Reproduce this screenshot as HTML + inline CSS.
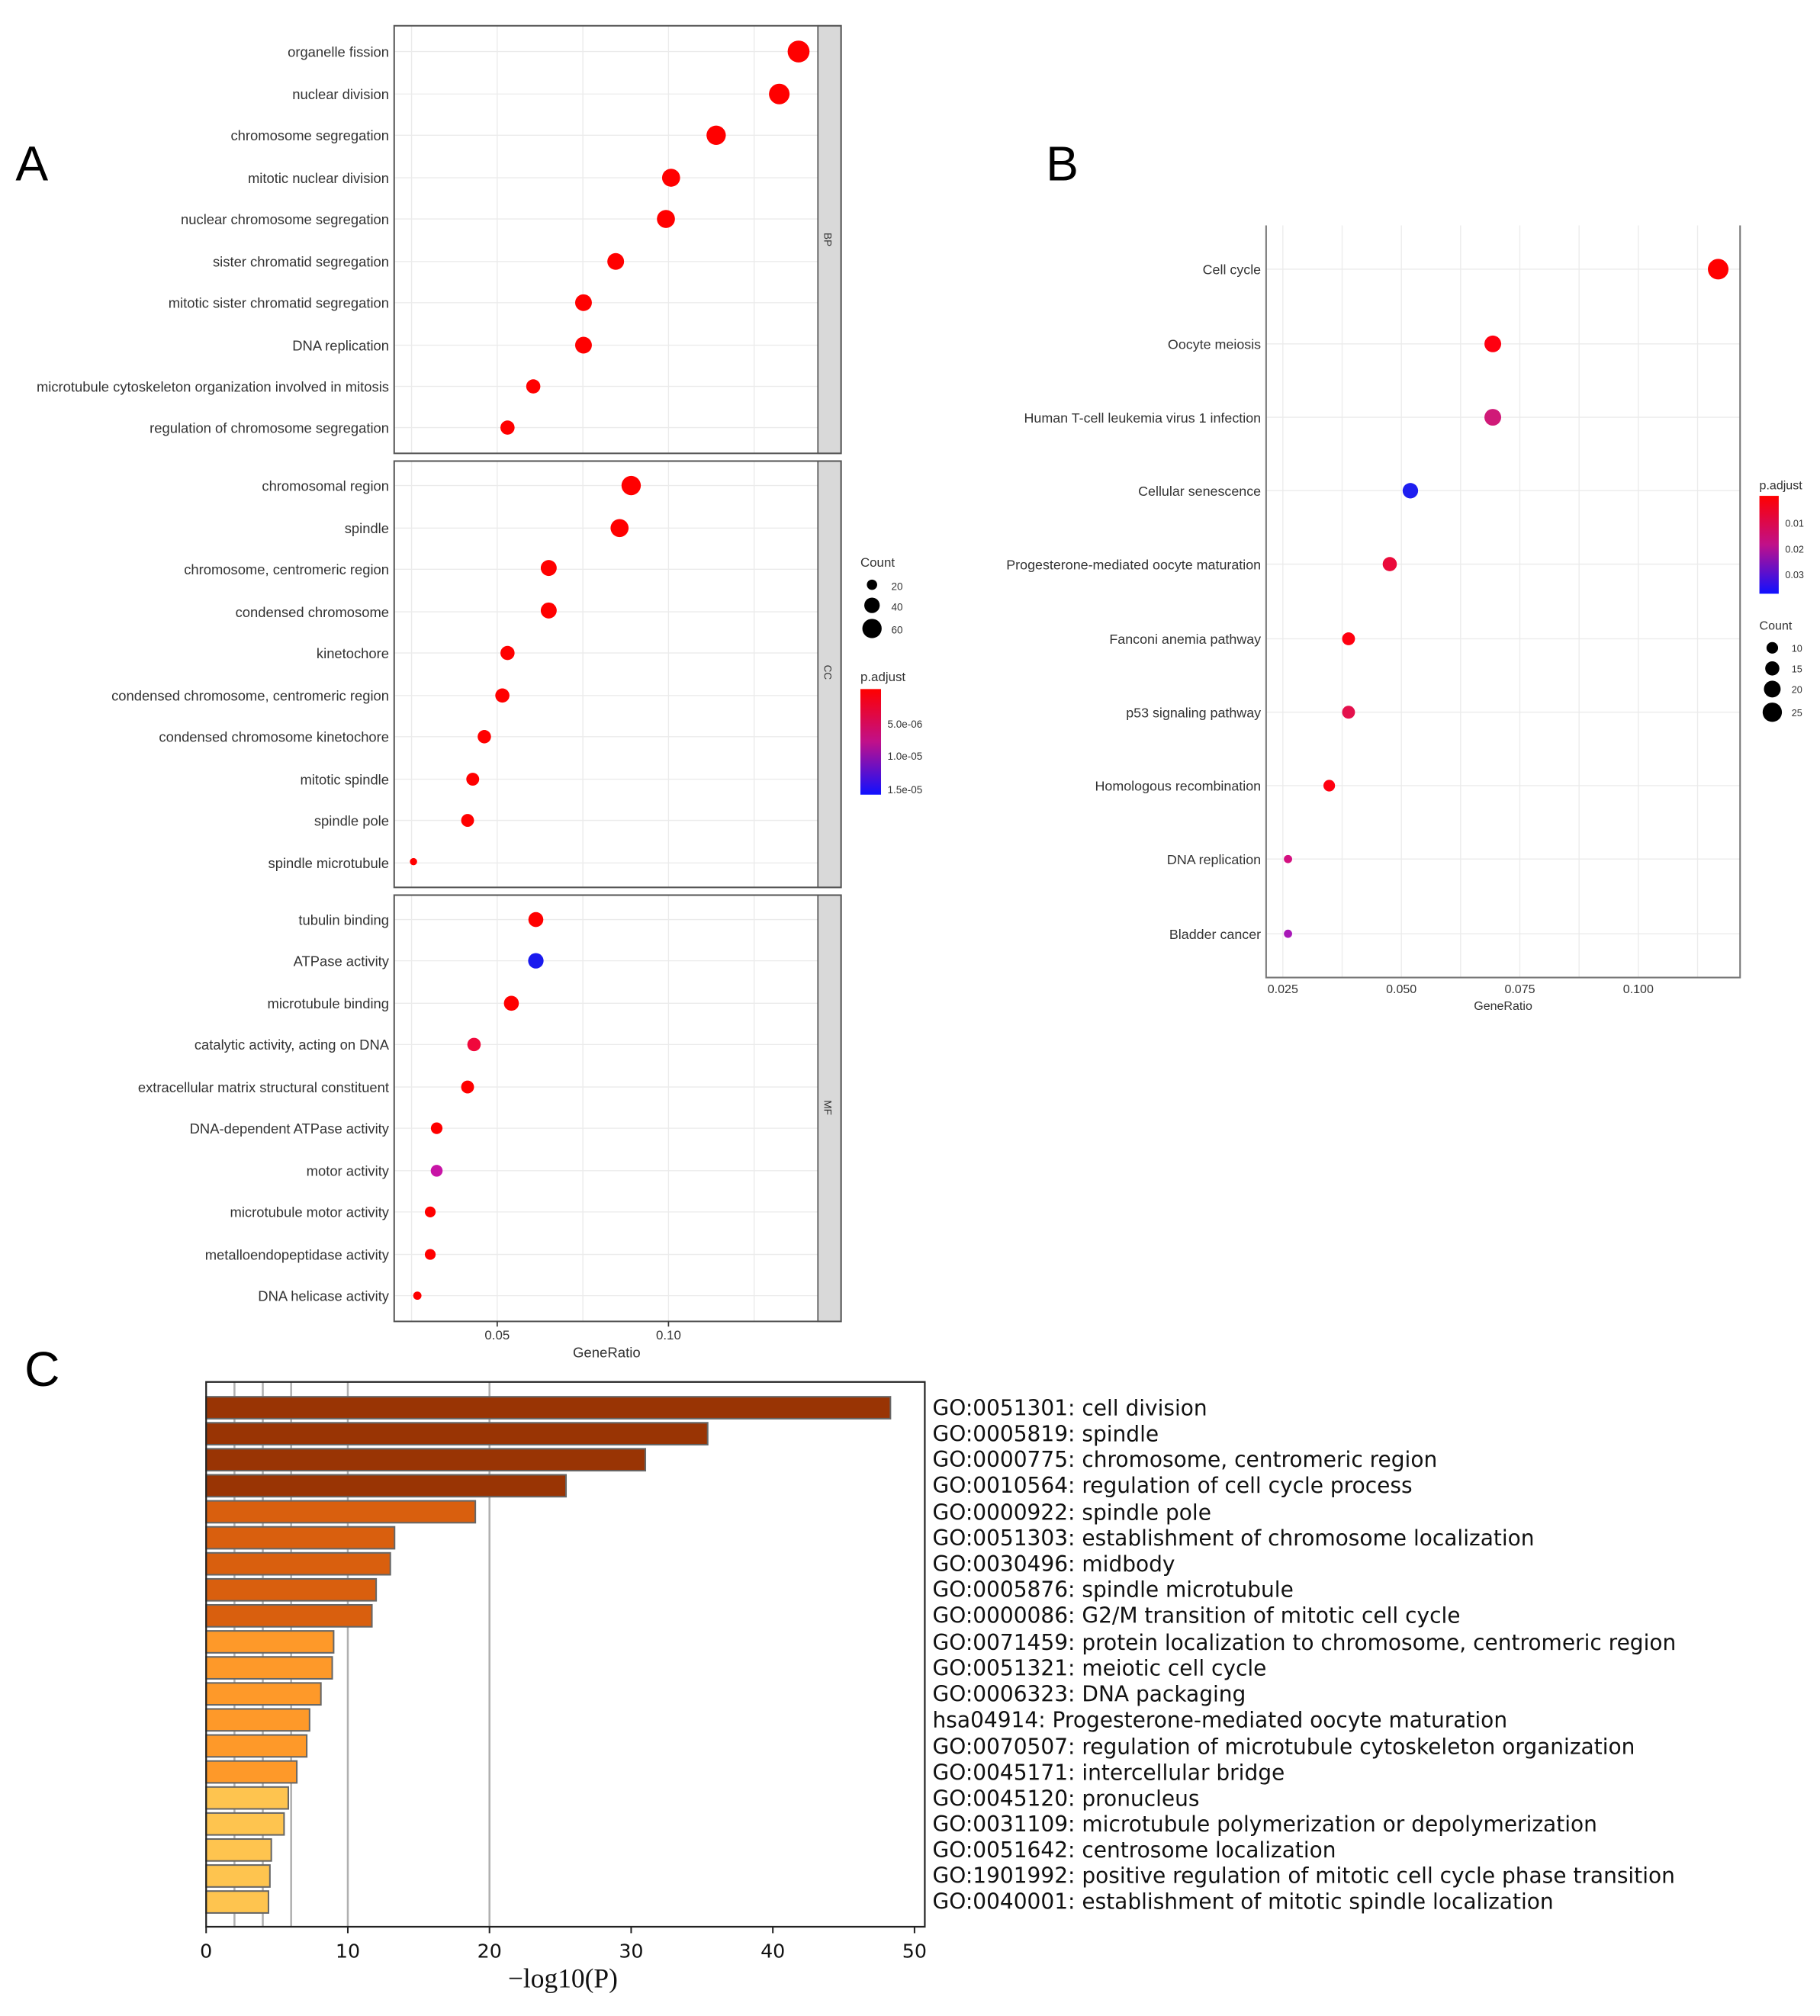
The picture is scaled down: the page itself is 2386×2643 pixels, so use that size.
<!DOCTYPE html>
<html><head><meta charset="utf-8"><style>html,body{margin:0;padding:0;background:#fff}svg{display:block}</style></head>
<body>
<svg width="2386" height="2643" viewBox="0 0 1413 1565.3" xmlns="http://www.w3.org/2000/svg" font-family="Liberation Sans, sans-serif">
<defs>
<linearGradient id="gA" x1="0" y1="0" x2="0" y2="1"><stop offset="0" stop-color="#ff0000"/><stop offset="0.5" stop-color="#c0108a"/><stop offset="1" stop-color="#1010ff"/></linearGradient>
</defs>
<text x="12" y="140" font-size="38">A</text>
<text x="812" y="140" font-size="38">B</text>
<text x="19" y="1076" font-size="38">C</text>

<g stroke="#ebebeb" stroke-width="0.8">
<line x1="319.5" y1="20" x2="319.5" y2="352"/><line x1="386" y1="20" x2="386" y2="352"/><line x1="452.5" y1="20" x2="452.5" y2="352"/><line x1="519" y1="20" x2="519" y2="352"/><line x1="585.5" y1="20" x2="585.5" y2="352"/>
<line x1="319.5" y1="358" x2="319.5" y2="689"/><line x1="386" y1="358" x2="386" y2="689"/><line x1="452.5" y1="358" x2="452.5" y2="689"/><line x1="519" y1="358" x2="519" y2="689"/><line x1="585.5" y1="358" x2="585.5" y2="689"/>
<line x1="319.5" y1="695" x2="319.5" y2="1026"/><line x1="386" y1="695" x2="386" y2="1026"/><line x1="452.5" y1="695" x2="452.5" y2="1026"/><line x1="519" y1="695" x2="519" y2="1026"/><line x1="585.5" y1="695" x2="585.5" y2="1026"/>
</g>
<g stroke="#ebebeb" stroke-width="0.8">
<line x1="306" x2="635" y1="40" y2="40"/><line x1="306" x2="635" y1="73" y2="73"/><line x1="306" x2="635" y1="105" y2="105"/><line x1="306" x2="635" y1="138" y2="138"/><line x1="306" x2="635" y1="170" y2="170"/><line x1="306" x2="635" y1="203" y2="203"/><line x1="306" x2="635" y1="235" y2="235"/><line x1="306" x2="635" y1="268" y2="268"/><line x1="306" x2="635" y1="300" y2="300"/><line x1="306" x2="635" y1="332" y2="332"/>
<line x1="306" x2="635" y1="377" y2="377"/><line x1="306" x2="635" y1="410" y2="410"/><line x1="306" x2="635" y1="442" y2="442"/><line x1="306" x2="635" y1="475" y2="475"/><line x1="306" x2="635" y1="507" y2="507"/><line x1="306" x2="635" y1="540" y2="540"/><line x1="306" x2="635" y1="572" y2="572"/><line x1="306" x2="635" y1="605" y2="605"/><line x1="306" x2="635" y1="637" y2="637"/><line x1="306" x2="635" y1="670" y2="670"/>
<line x1="306" x2="635" y1="714" y2="714"/><line x1="306" x2="635" y1="746" y2="746"/><line x1="306" x2="635" y1="779" y2="779"/><line x1="306" x2="635" y1="811" y2="811"/><line x1="306" x2="635" y1="844" y2="844"/><line x1="306" x2="635" y1="876" y2="876"/><line x1="306" x2="635" y1="909" y2="909"/><line x1="306" x2="635" y1="941" y2="941"/><line x1="306" x2="635" y1="974" y2="974"/><line x1="306" x2="635" y1="1006" y2="1006"/>
</g>
<g fill="#d9d9d9" stroke="#555" stroke-width="1">
<rect x="635" y="20" width="18" height="332"/><rect x="635" y="358" width="18" height="331"/><rect x="635" y="695" width="18" height="331"/>
</g>
<g fill="none" stroke="#555" stroke-width="1.2">
<rect x="306" y="20" width="347" height="332"/><rect x="306" y="358" width="347" height="331"/><rect x="306" y="695" width="347" height="331"/>
</g>
<g font-size="8" fill="#333">
<text transform="translate(640,186) rotate(90)" text-anchor="middle">BP</text>
<text transform="translate(640,522) rotate(90)" text-anchor="middle">CC</text>
<text transform="translate(640,860) rotate(90)" text-anchor="middle">MF</text>
</g>
<g font-size="10.9" fill="#333" text-anchor="end">
<text x="302" y="44">organelle fission</text>
<text x="302" y="77">nuclear division</text>
<text x="302" y="109">chromosome segregation</text>
<text x="302" y="142">mitotic nuclear division</text>
<text x="302" y="174">nuclear chromosome segregation</text>
<text x="302" y="207">sister chromatid segregation</text>
<text x="302" y="239">mitotic sister chromatid segregation</text>
<text x="302" y="272">DNA replication</text>
<text x="302" y="304">microtubule cytoskeleton organization involved in mitosis</text>
<text x="302" y="336">regulation of chromosome segregation</text>
<text x="302" y="381">chromosomal region</text>
<text x="302" y="414">spindle</text>
<text x="302" y="446">chromosome, centromeric region</text>
<text x="302" y="479">condensed chromosome</text>
<text x="302" y="511">kinetochore</text>
<text x="302" y="544">condensed chromosome, centromeric region</text>
<text x="302" y="576">condensed chromosome kinetochore</text>
<text x="302" y="609">mitotic spindle</text>
<text x="302" y="641">spindle pole</text>
<text x="302" y="674">spindle microtubule</text>
<text x="302" y="718">tubulin binding</text>
<text x="302" y="750">ATPase activity</text>
<text x="302" y="783">microtubule binding</text>
<text x="302" y="815">catalytic activity, acting on DNA</text>
<text x="302" y="848">extracellular matrix structural constituent</text>
<text x="302" y="880">DNA-dependent ATPase activity</text>
<text x="302" y="913">motor activity</text>
<text x="302" y="945">microtubule motor activity</text>
<text x="302" y="978">metalloendopeptidase activity</text>
<text x="302" y="1010">DNA helicase activity</text>
</g>
<g fill="#ff0000">
<circle cx="620" cy="40" r="8.5"/><circle cx="605" cy="73" r="8"/><circle cx="556" cy="105" r="7.5"/><circle cx="521" cy="138" r="7"/><circle cx="517" cy="170" r="7"/><circle cx="478" cy="203" r="6.5"/><circle cx="453" cy="235" r="6.5"/><circle cx="453" cy="268" r="6.5"/><circle cx="414" cy="300" r="5.5"/><circle cx="394" cy="332" r="5.5"/>
<circle cx="490" cy="377" r="7.5"/><circle cx="481" cy="410" r="7"/><circle cx="426" cy="441" r="6.2"/><circle cx="426" cy="474" r="6.2"/><circle cx="394" cy="507" r="5.5"/><circle cx="390" cy="540" r="5.5"/><circle cx="376" cy="572" r="5.2"/><circle cx="367" cy="605" r="5"/><circle cx="363" cy="637" r="5"/><circle cx="321" cy="669" r="2.8"/>
<circle cx="416" cy="714" r="5.8"/><circle cx="397" cy="779" r="5.8"/><circle cx="363" cy="844" r="5"/><circle cx="339" cy="876" r="4.5"/><circle cx="334" cy="941" r="4.2"/><circle cx="334" cy="974" r="4.2"/><circle cx="324" cy="1006" r="3.2"/>
</g>
<circle cx="416" cy="746" r="6" fill="#1a1aee"/>
<circle cx="368" cy="811" r="5.2" fill="#f0083c"/>
<circle cx="339" cy="909" r="4.6" fill="#c814a6"/>
<g font-size="10" fill="#333" text-anchor="middle">
<text x="386" y="1040">0.05</text><text x="519" y="1040">0.10</text>
<text x="471" y="1054" font-size="11">GeneRatio</text>
</g>
<g stroke="#333" stroke-width="1"><line x1="386" y1="1026" x2="386" y2="1030"/><line x1="519" y1="1026" x2="519" y2="1030"/></g>
<g font-size="10" fill="#333">
<text x="668" y="440">Count</text>
<text x="692" y="458" font-size="8">20</text><text x="692" y="474" font-size="8">40</text><text x="692" y="492" font-size="8">60</text>
<text x="668" y="529">p.adjust</text>
<text x="689" y="565" font-size="8">5.0e-06</text><text x="689" y="590" font-size="8">1.0e-05</text><text x="689" y="616" font-size="8">1.5e-05</text>
</g>
<circle cx="677" cy="454" r="4" fill="#000"/><circle cx="677" cy="470" r="6" fill="#000"/><circle cx="677" cy="488" r="7.5" fill="#000"/>
<rect x="668" y="535" width="16" height="82" fill="url(#gA)"/>

<g stroke="#ebebeb" stroke-width="0.8">
<line x1="996" y1="175" x2="996" y2="759"/><line x1="1042" y1="175" x2="1042" y2="759"/><line x1="1088" y1="175" x2="1088" y2="759"/><line x1="1134" y1="175" x2="1134" y2="759"/><line x1="1180" y1="175" x2="1180" y2="759"/><line x1="1226" y1="175" x2="1226" y2="759"/><line x1="1272" y1="175" x2="1272" y2="759"/><line x1="1318" y1="175" x2="1318" y2="759"/>
<line x1="983" x2="1351" y1="209" y2="209"/><line x1="983" x2="1351" y1="267" y2="267"/><line x1="983" x2="1351" y1="324" y2="324"/><line x1="983" x2="1351" y1="381" y2="381"/><line x1="983" x2="1351" y1="438" y2="438"/><line x1="983" x2="1351" y1="496" y2="496"/><line x1="983" x2="1351" y1="553" y2="553"/><line x1="983" x2="1351" y1="610" y2="610"/><line x1="983" x2="1351" y1="667" y2="667"/><line x1="983" x2="1351" y1="725" y2="725"/>
</g>
<g stroke="#777" stroke-width="1.2" fill="none"><polyline points="983,175 983,759 1351,759 1351,175"/></g>
<g font-size="10.6" fill="#333" text-anchor="end">
<text x="979" y="213">Cell cycle</text>
<text x="979" y="271">Oocyte meiosis</text>
<text x="979" y="328">Human T-cell leukemia virus 1 infection</text>
<text x="979" y="385">Cellular senescence</text>
<text x="979" y="442">Progesterone-mediated oocyte maturation</text>
<text x="979" y="500">Fanconi anemia pathway</text>
<text x="979" y="557">p53 signaling pathway</text>
<text x="979" y="614">Homologous recombination</text>
<text x="979" y="671">DNA replication</text>
<text x="979" y="729">Bladder cancer</text>
</g>
<circle cx="1334" cy="209" r="8" fill="#ff0000"/>
<circle cx="1159" cy="267" r="6.5" fill="#ff0010"/>
<circle cx="1159" cy="324" r="6.5" fill="#d01a78"/>
<circle cx="1095" cy="381" r="6" fill="#1e1ef0"/>
<circle cx="1079" cy="438" r="5.5" fill="#ea0a3a"/>
<circle cx="1047" cy="496" r="5" fill="#ff0010"/>
<circle cx="1047" cy="553" r="5" fill="#e4104c"/>
<circle cx="1032" cy="610" r="4.5" fill="#ff0010"/>
<circle cx="1000" cy="667" r="3.2" fill="#d41080"/>
<circle cx="1000" cy="725" r="3.2" fill="#a818b8"/>
<g font-size="9.5" fill="#333" text-anchor="middle">
<text x="996" y="771">0.025</text><text x="1088" y="771">0.050</text><text x="1180" y="771">0.075</text><text x="1272" y="771">0.100</text>
<text x="1167" y="784">GeneRatio</text>
</g>
<g font-size="9.5" fill="#333">
<text x="1366" y="380">p.adjust</text>
<text x="1386" y="409" font-size="7.5">0.01</text><text x="1386" y="429" font-size="7.5">0.02</text><text x="1386" y="449" font-size="7.5">0.03</text>
<text x="1366" y="489">Count</text>
<text x="1391" y="506" font-size="7.5">10</text><text x="1391" y="522" font-size="7.5">15</text><text x="1391" y="538" font-size="7.5">20</text><text x="1391" y="556" font-size="7.5">25</text>
</g>
<rect x="1366" y="385" width="15" height="76" fill="url(#gA)"/>
<circle cx="1376" cy="503" r="4.5" fill="#000"/><circle cx="1376" cy="519" r="5.5" fill="#000"/><circle cx="1376" cy="535" r="6.5" fill="#000"/><circle cx="1376" cy="553" r="7.5" fill="#000"/>

<g stroke="#b0b0b0" stroke-width="1.5">
<line x1="182" y1="1073" x2="182" y2="1496"/><line x1="204" y1="1073" x2="204" y2="1496"/><line x1="226" y1="1073" x2="226" y2="1496"/><line x1="270" y1="1073" x2="270" y2="1496"/><line x1="380" y1="1073" x2="380" y2="1496"/>
</g>
<g stroke="#666" stroke-width="1.2">
<rect x="160" y="1084.5" width="531.3" height="17" fill="#993404"/>
<rect x="160" y="1104.7" width="389.4" height="17" fill="#993404"/>
<rect x="160" y="1124.9" width="341" height="17" fill="#993404"/>
<rect x="160" y="1145.1" width="279.4" height="17" fill="#993404"/>
<rect x="160" y="1165.3" width="209" height="17" fill="#d95f0e"/>
<rect x="160" y="1185.5" width="146.3" height="17" fill="#d95f0e"/>
<rect x="160" y="1205.7" width="143" height="17" fill="#d95f0e"/>
<rect x="160" y="1225.9" width="132" height="17" fill="#d95f0e"/>
<rect x="160" y="1246.1" width="128.7" height="17" fill="#d95f0e"/>
<rect x="160" y="1266.3" width="99" height="17" fill="#fe9929"/>
<rect x="160" y="1286.5" width="97.9" height="17" fill="#fe9929"/>
<rect x="160" y="1306.7" width="89.1" height="17" fill="#fe9929"/>
<rect x="160" y="1326.9" width="80.3" height="17" fill="#fe9929"/>
<rect x="160" y="1347.1" width="78.1" height="17" fill="#fe9929"/>
<rect x="160" y="1367.3" width="70.4" height="17" fill="#fe9929"/>
<rect x="160" y="1387.5" width="63.8" height="17" fill="#fec44f"/>
<rect x="160" y="1407.7" width="60.5" height="17" fill="#fec44f"/>
<rect x="160" y="1427.9" width="50.6" height="17" fill="#fec44f"/>
<rect x="160" y="1448.1" width="49.5" height="17" fill="#fec44f"/>
<rect x="160" y="1468.3" width="48.4" height="17" fill="#fec44f"/>
</g>
<rect x="160" y="1073" width="558" height="423" fill="none" stroke="#222" stroke-width="1.3"/>
<g stroke="#222" stroke-width="1.2"><line x1="160" y1="1496" x2="160" y2="1501"/><line x1="270" y1="1496" x2="270" y2="1501"/><line x1="380" y1="1496" x2="380" y2="1501"/><line x1="490" y1="1496" x2="490" y2="1501"/><line x1="600" y1="1496" x2="600" y2="1501"/><line x1="710" y1="1496" x2="710" y2="1501"/></g>
<g font-family="DejaVu Sans, sans-serif" font-size="15" fill="#111" text-anchor="middle">
<text x="160" y="1520">0</text><text x="270" y="1520">10</text><text x="380" y="1520">20</text><text x="490" y="1520">30</text><text x="600" y="1520">40</text><text x="710" y="1520">50</text>
</g>
<text x="437" y="1543" font-family="Liberation Serif, serif" font-size="21" text-anchor="middle" fill="#111">−log10(P)</text>
<g font-family="DejaVu Sans, sans-serif" font-size="16.6" fill="#111">
<text x="724" y="1099">GO:0051301: cell division</text>
<text x="724" y="1119">GO:0005819: spindle</text>
<text x="724" y="1139">GO:0000775: chromosome, centromeric region</text>
<text x="724" y="1159">GO:0010564: regulation of cell cycle process</text>
<text x="724" y="1180">GO:0000922: spindle pole</text>
<text x="724" y="1200">GO:0051303: establishment of chromosome localization</text>
<text x="724" y="1220">GO:0030496: midbody</text>
<text x="724" y="1240">GO:0005876: spindle microtubule</text>
<text x="724" y="1260">GO:0000086: G2/M transition of mitotic cell cycle</text>
<text x="724" y="1281">GO:0071459: protein localization to chromosome, centromeric region</text>
<text x="724" y="1301">GO:0051321: meiotic cell cycle</text>
<text x="724" y="1321">GO:0006323: DNA packaging</text>
<text x="724" y="1341">hsa04914: Progesterone-mediated oocyte maturation</text>
<text x="724" y="1362">GO:0070507: regulation of microtubule cytoskeleton organization</text>
<text x="724" y="1382">GO:0045171: intercellular bridge</text>
<text x="724" y="1402">GO:0045120: pronucleus</text>
<text x="724" y="1422">GO:0031109: microtubule polymerization or depolymerization</text>
<text x="724" y="1442">GO:0051642: centrosome localization</text>
<text x="724" y="1462">GO:1901992: positive regulation of mitotic cell cycle phase transition</text>
<text x="724" y="1482">GO:0040001: establishment of mitotic spindle localization</text>
</g>
</svg>
</body></html>
